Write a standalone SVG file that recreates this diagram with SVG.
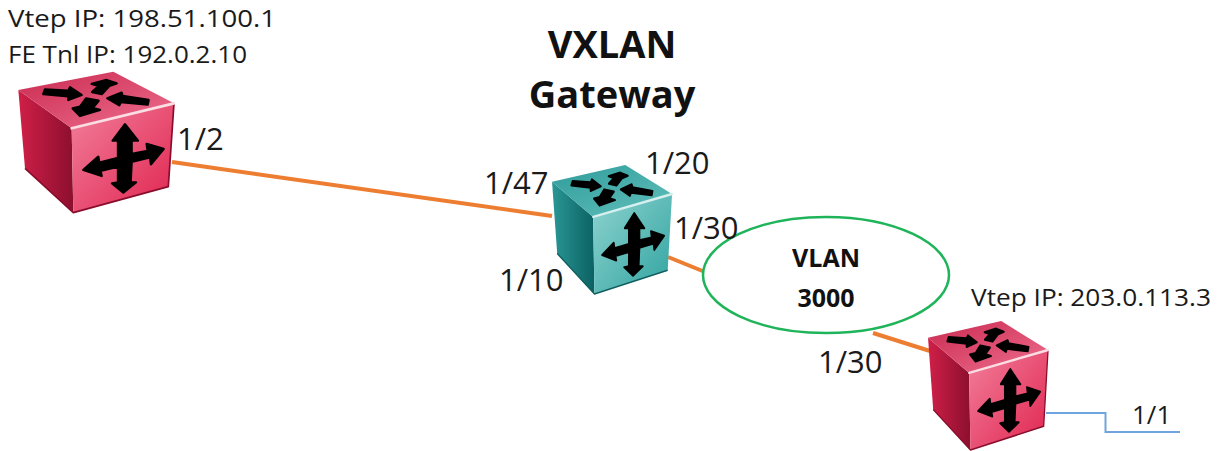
<svg xmlns="http://www.w3.org/2000/svg" width="1222" height="451" viewBox="0 0 1222 451">
<style>
text{font-family:"Open Sans","Liberation Sans",sans-serif;fill:#1a1a1a}
.l{font-size:23.5px}
.p{font-size:31px}
.b{font-weight:700;text-anchor:middle;fill:#111}
.v{font-size:25px}
.h{font-size:38px}
.link{fill:none;stroke:#ed7d31;stroke-width:4}
.hi{fill:none;stroke-width:8;stroke-linejoin:round;stroke-linecap:round}
.edge{fill:none;stroke-width:5;stroke-linejoin:round}
</style>
<defs>
<linearGradient id="rt" x1="0" y1="0" x2="1" y2="1"><stop offset="0" stop-color="#c92a50"/><stop offset="1" stop-color="#ef6f8f"/></linearGradient>
<linearGradient id="rf" x1="0" y1="0" x2="1" y2="1"><stop offset="0" stop-color="#f27f9b"/><stop offset="1" stop-color="#e0244f"/></linearGradient>
<linearGradient id="rl" x1="0" y1="0" x2="1" y2="0"><stop offset="0" stop-color="#d01f48"/><stop offset="1" stop-color="#8c0f2e"/></linearGradient>
<linearGradient id="tt" x1="0" y1="0" x2="1" y2="1"><stop offset="0" stop-color="#2f9c9a"/><stop offset="1" stop-color="#62c0bc"/></linearGradient>
<linearGradient id="tf" x1="0" y1="0" x2="1" y2="1"><stop offset="0" stop-color="#8fd3cf"/><stop offset="1" stop-color="#2fa3a0"/></linearGradient>
<linearGradient id="tl" x1="0" y1="0" x2="1" y2="0"><stop offset="0" stop-color="#2a9795"/><stop offset="1" stop-color="#0b6163"/></linearGradient>
<g id="glyphs" fill="#000" stroke="#000" stroke-width="7" stroke-linejoin="round">
<polygon points="375,163 414,212 395,212 395,252 443,243 440,222 491,237 453,283 450,262 395,276 392,337 408,337 370,368 336,340 354,337 354,290 302,303 305,318 250,300 295,260 298,278 354,264 354,212 338,212"/>
<polygon points="135,58 205,62 210,52 245,75 205,90 205,79 130,72"/>
<polygon points="275,42 320,30 350,40 328,48 306,72 276,66 296,48"/>
<polygon points="322,85 365,68 368,78 446,90 443,104 362,96 358,106"/>
<polygon points="258,85 296,92 278,114 300,120 240,138 218,115 240,110"/>
</g>
<g id="cube-red">
<polygon fill="url(#rl)" points="55,60 215,175 220,428 75,295"/>
<polygon fill="url(#rt)" points="55,60 340,5 522,100 215,175"/>
<polygon fill="url(#rf)" points="215,175 522,100 505,350 220,428"/>
<polyline class="edge" stroke="#8a0c2c" points="75,295 220,428 505,350 522,100"/>
<polyline class="hi" stroke="#fbdde4" points="215,175 522,100"/>
<use href="#glyphs"/>
</g>
<g id="cube-teal">
<polygon fill="url(#tl)" points="55,60 215,175 220,428 75,295"/>
<polygon fill="url(#tt)" points="55,60 340,5 522,100 215,175"/>
<polygon fill="url(#tf)" points="215,175 522,100 505,350 220,428"/>
<polyline class="edge" stroke="#0f5e5e" points="75,295 220,428 505,350"/>
<polyline class="hi" stroke="#d5f0ee" points="215,175 522,100"/>
<use href="#glyphs"/>
</g>
</defs>
<rect width="1222" height="451" fill="#fff"/>
<g id="connectors">
<line class="link" x1="172" y1="162" x2="552" y2="216"/>
<line class="link" x1="668" y1="257" x2="705" y2="272"/>
<line class="link" x1="873" y1="333" x2="930" y2="351"/>
<polyline points="1046,413 1105.500,413 1105.500,432 1180,432" fill="none" stroke="#6fa5dc" stroke-width="2"/>
</g>
<g id="switch-left"><use href="#cube-red" transform="translate(0 70) scale(.3333)"/></g>
<g id="switch-gateway"><use href="#cube-teal" transform="translate(537.900 163.500) scale(.257 .305)"/></g>
<g id="switch-right"><use href="#cube-red" transform="translate(913.900 319.500) scale(.257 .305)"/></g>
<g id="vlan-3000">
<ellipse cx="826" cy="275" rx="123" ry="58" fill="#fff" stroke="#1fb45a" stroke-width="2.500"/>
<text class="b v" x="826" y="267">VLAN</text>
<text class="b v" x="826" y="307">3000</text>
</g>
<g id="labels">
<text class="l" x="8" y="27" textLength="268" lengthAdjust="spacingAndGlyphs">Vtep IP: 198.51.100.1</text>
<text class="l" x="8" y="63" textLength="239" lengthAdjust="spacingAndGlyphs">FE Tnl IP: 192.0.2.10</text>
<text class="b h" x="612" y="58">VXLAN</text>
<text class="b h" x="612" y="108">Gateway</text>
<text class="p" x="177" y="150">1/2</text>
<text class="p" x="484" y="194">1/47</text>
<text class="p" x="645" y="174">1/20</text>
<text class="p" x="674" y="239">1/30</text>
<text class="p" x="499" y="291">1/10</text>
<text class="p" x="818" y="373">1/30</text>
<text class="l" x="971" y="306" textLength="240" lengthAdjust="spacingAndGlyphs">Vtep IP: 203.0.113.3</text>
<text class="l" style="font-size:26px" x="1132" y="424">1/1</text>
</g>
</svg>
